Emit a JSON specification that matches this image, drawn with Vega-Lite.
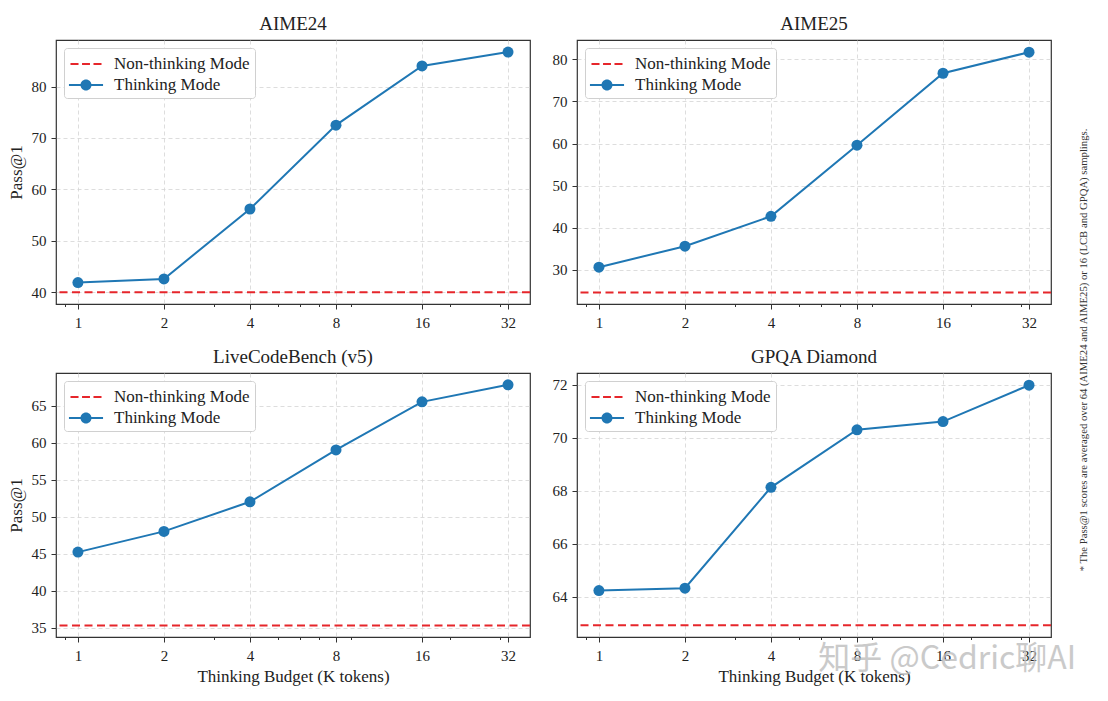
{
  "$schema": "https://vega.github.io/schema/vega-lite/v6.json",
  "padding": {"left": 6, "top": 14, "right": 5, "bottom": 5},
  "background": "white",
  "data": {"values": [
    {"bench": "AIME24", "mode": "Thinking Mode", "k": 1, "score": 41.9},
    {"bench": "AIME24", "mode": "Thinking Mode", "k": 2, "score": 42.6},
    {"bench": "AIME24", "mode": "Thinking Mode", "k": 4, "score": 56.2},
    {"bench": "AIME24", "mode": "Thinking Mode", "k": 8, "score": 72.5},
    {"bench": "AIME24", "mode": "Thinking Mode", "k": 16, "score": 84.0},
    {"bench": "AIME24", "mode": "Thinking Mode", "k": 32, "score": 86.7},
    {"bench": "AIME24", "mode": "Non-thinking Mode", "k": null, "score": 40.0},
    {"bench": "AIME25", "mode": "Thinking Mode", "k": 1, "score": 30.6},
    {"bench": "AIME25", "mode": "Thinking Mode", "k": 2, "score": 35.6},
    {"bench": "AIME25", "mode": "Thinking Mode", "k": 4, "score": 42.7},
    {"bench": "AIME25", "mode": "Thinking Mode", "k": 8, "score": 59.6},
    {"bench": "AIME25", "mode": "Thinking Mode", "k": 16, "score": 76.7},
    {"bench": "AIME25", "mode": "Thinking Mode", "k": 32, "score": 81.7},
    {"bench": "AIME25", "mode": "Non-thinking Mode", "k": null, "score": 24.6},
    {"bench": "LCB", "mode": "Thinking Mode", "k": 1, "score": 45.2},
    {"bench": "LCB", "mode": "Thinking Mode", "k": 2, "score": 48.0},
    {"bench": "LCB", "mode": "Thinking Mode", "k": 4, "score": 52.0},
    {"bench": "LCB", "mode": "Thinking Mode", "k": 8, "score": 59.0},
    {"bench": "LCB", "mode": "Thinking Mode", "k": 16, "score": 65.5},
    {"bench": "LCB", "mode": "Thinking Mode", "k": 32, "score": 67.8},
    {"bench": "LCB", "mode": "Non-thinking Mode", "k": null, "score": 35.3},
    {"bench": "GPQA", "mode": "Thinking Mode", "k": 1, "score": 64.24},
    {"bench": "GPQA", "mode": "Thinking Mode", "k": 2, "score": 64.33},
    {"bench": "GPQA", "mode": "Thinking Mode", "k": 4, "score": 68.13},
    {"bench": "GPQA", "mode": "Thinking Mode", "k": 8, "score": 70.3},
    {"bench": "GPQA", "mode": "Thinking Mode", "k": 16, "score": 70.61},
    {"bench": "GPQA", "mode": "Thinking Mode", "k": 32, "score": 71.98},
    {"bench": "GPQA", "mode": "Non-thinking Mode", "k": null, "score": 62.93},
    {"bench": "GPQA", "mode": "watermark", "wm": "知乎 @Cedric聊AI"}
  ]},
  "config": {
    "font": "Liberation Serif",
    "view": {"stroke": "#333333", "strokeWidth": 1.2},
    "title": {"font": "Liberation Serif", "fontSize": 19, "fontWeight": "normal", "color": "#222222", "offset": 6},
    "axis": {
      "labelFont": "Liberation Serif", "labelFontSize": 15, "labelColor": "#222222",
      "titleFont": "Liberation Serif", "titleFontSize": 17, "titleFontWeight": "normal", "titleColor": "#222222",
      "domain": false, "tickColor": "#333333", "tickWidth": 1, "tickSize": 5,
      "grid": true, "gridDash": [4, 3], "gridColor": "#d4d4d4", "gridWidth": 0.8
    },
    "axisX": {"labelPadding": 6, "titlePadding": 5},
    "axisY": {"labelPadding": 5, "titlePadding": 6},
    "legend": {"orient": "top-left", "offset": 8, "padding": 5, "symbolOffset": 6, "labelOffset": 17, "rowPadding": 2, "fillColor": "white", "strokeColor": "#d0d0d0", "cornerRadius": 3, "symbolSize": 484, "symbolStrokeWidth": 0, "labelFont": "Liberation Serif", "labelFontSize": 17, "labelColor": "#222222", "labelLimit": 300}
  },
  "hconcat": [
    {
      "concat": [
        {
          "width": 474, "height": 264,
          "title": "AIME24",
          "transform": [{"filter": "datum.bench === 'AIME24'"}],
          "layer": [
            {"transform": [{"filter": "datum.mode === 'Non-thinking Mode'"}], "mark": {"type": "rule", "color": "#e6262b", "strokeDash": [8, 4.5], "strokeWidth": 2},
             "encoding": {"y": {"field": "score", "type": "quantitative", "scale": {"domain": [37.73, 89.05], "nice": false, "zero": false}, "axis": {"values": [40, 50, 60, 70, 80], "title": "Pass@1"}}}},
            {"transform": [{"filter": "datum.mode === 'Thinking Mode'"}], "mark": {"type": "line", "color": "#1f77b4", "strokeWidth": 2},
             "encoding": {"x": {"field": "k", "type": "quantitative", "scale": {"type": "log", "base": 2, "domain": [0.838, 38.2], "nice": false}, "axis": {"orient": "bottom", "values": [1, 2, 4, 8, 16, 32], "format": "d", "title": null}},
               "y": {"field": "score", "type": "quantitative", "scale": {"domain": [37.73, 89.05], "nice": false, "zero": false}, "axis": {"values": [40, 50, 60, 70, 80], "title": "Pass@1"}}}},
            {"transform": [{"filter": "datum.mode === 'Thinking Mode'"}], "mark": {"type": "point", "filled": true, "shape": "circle", "size": 121, "opacity": 1, "color": "#1f77b4"},
             "encoding": {"x": {"field": "k", "type": "quantitative", "scale": {"type": "log", "base": 2, "domain": [0.838, 38.2], "nice": false}, "axis": {"orient": "bottom", "values": [0.9, 3, 5, 6, 7, 9, 20, 30], "labels": false, "grid": false, "tickSize": 2.5, "title": null}},
               "y": {"field": "score", "type": "quantitative", "scale": {"domain": [37.73, 89.05], "nice": false, "zero": false}, "axis": {"values": [40, 50, 60, 70, 80], "title": "Pass@1"}}}},
            {"transform": [{"filter": "false"}], "mark": {"type": "point", "filled": true, "opacity": 1, "size": 484},
             "encoding": {
               "color": {"field": "mode", "type": "nominal", "scale": {"domain": ["Non-thinking Mode", "Thinking Mode"], "range": ["#e6262b", "#1f77b4"]}, "legend": {"title": null}},
               "shape": {"field": "mode", "type": "nominal", "scale": {"domain": ["Non-thinking Mode", "Thinking Mode"], "range": ["M-1.41,-0.09H-0.68V0.09H-1.41Z M-0.36,-0.09H0.36V0.09H-0.36Z M0.68,-0.09H1.41V0.09H0.68Z", "M-1.55,-0.08H-0.45V0.08H-1.55Z M0.45,-0.08H1.55V0.08H0.45Z M0.5,0A0.5,0.5,0,1,1,-0.5,0A0.5,0.5,0,1,1,0.5,0Z"]}, "legend": {"title": null}}
             }}
          ],
          "resolve": {"axis": {"x": "independent"}}
        },
        {
          "width": 474, "height": 264,
          "title": "AIME25",
          "transform": [{"filter": "datum.bench === 'AIME25'"}],
          "layer": [
            {"transform": [{"filter": "datum.mode === 'Non-thinking Mode'"}], "mark": {"type": "rule", "color": "#e6262b", "strokeDash": [8, 4.5], "strokeWidth": 2},
             "encoding": {"y": {"field": "score", "type": "quantitative", "scale": {"domain": [21.86, 84.6], "nice": false, "zero": false}, "axis": {"values": [30, 40, 50, 60, 70, 80], "title": null}}}},
            {"transform": [{"filter": "datum.mode === 'Thinking Mode'"}], "mark": {"type": "line", "color": "#1f77b4", "strokeWidth": 2},
             "encoding": {"x": {"field": "k", "type": "quantitative", "scale": {"type": "log", "base": 2, "domain": [0.838, 38.2], "nice": false}, "axis": {"orient": "bottom", "values": [1, 2, 4, 8, 16, 32], "format": "d", "title": null}},
               "y": {"field": "score", "type": "quantitative", "scale": {"domain": [21.86, 84.6], "nice": false, "zero": false}, "axis": {"values": [30, 40, 50, 60, 70, 80], "title": null}}}},
            {"transform": [{"filter": "datum.mode === 'Thinking Mode'"}], "mark": {"type": "point", "filled": true, "shape": "circle", "size": 121, "opacity": 1, "color": "#1f77b4"},
             "encoding": {"x": {"field": "k", "type": "quantitative", "scale": {"type": "log", "base": 2, "domain": [0.838, 38.2], "nice": false}, "axis": {"orient": "bottom", "values": [0.9, 3, 5, 6, 7, 9, 20, 30], "labels": false, "grid": false, "tickSize": 2.5, "title": null}},
               "y": {"field": "score", "type": "quantitative", "scale": {"domain": [21.86, 84.6], "nice": false, "zero": false}, "axis": {"values": [30, 40, 50, 60, 70, 80], "title": null}}}},
            {"transform": [{"filter": "false"}], "mark": {"type": "point", "filled": true, "opacity": 1, "size": 484},
             "encoding": {
               "color": {"field": "mode", "type": "nominal", "scale": {"domain": ["Non-thinking Mode", "Thinking Mode"], "range": ["#e6262b", "#1f77b4"]}, "legend": {"title": null}},
               "shape": {"field": "mode", "type": "nominal", "scale": {"domain": ["Non-thinking Mode", "Thinking Mode"], "range": ["M-1.41,-0.09H-0.68V0.09H-1.41Z M-0.36,-0.09H0.36V0.09H-0.36Z M0.68,-0.09H1.41V0.09H0.68Z", "M-1.55,-0.08H-0.45V0.08H-1.55Z M0.45,-0.08H1.55V0.08H0.45Z M0.5,0A0.5,0.5,0,1,1,-0.5,0A0.5,0.5,0,1,1,0.5,0Z"]}, "legend": {"title": null}}
             }}
          ],
          "resolve": {"axis": {"x": "independent"}}
        },
        {
          "width": 474, "height": 264,
          "title": "LiveCodeBench (v5)",
          "transform": [{"filter": "datum.bench === 'LCB'"}],
          "layer": [
            {"transform": [{"filter": "datum.mode === 'Non-thinking Mode'"}], "mark": {"type": "rule", "color": "#e6262b", "strokeDash": [8, 4.5], "strokeWidth": 2},
             "encoding": {"y": {"field": "score", "type": "quantitative", "scale": {"domain": [33.73, 69.4], "nice": false, "zero": false}, "axis": {"values": [35, 40, 45, 50, 55, 60, 65], "title": "Pass@1"}}}},
            {"transform": [{"filter": "datum.mode === 'Thinking Mode'"}], "mark": {"type": "line", "color": "#1f77b4", "strokeWidth": 2},
             "encoding": {"x": {"field": "k", "type": "quantitative", "scale": {"type": "log", "base": 2, "domain": [0.838, 38.2], "nice": false}, "axis": {"orient": "bottom", "values": [1, 2, 4, 8, 16, 32], "format": "d", "title": "Thinking Budget (K tokens)"}},
               "y": {"field": "score", "type": "quantitative", "scale": {"domain": [33.73, 69.4], "nice": false, "zero": false}, "axis": {"values": [35, 40, 45, 50, 55, 60, 65], "title": "Pass@1"}}}},
            {"transform": [{"filter": "datum.mode === 'Thinking Mode'"}], "mark": {"type": "point", "filled": true, "shape": "circle", "size": 121, "opacity": 1, "color": "#1f77b4"},
             "encoding": {"x": {"field": "k", "type": "quantitative", "scale": {"type": "log", "base": 2, "domain": [0.838, 38.2], "nice": false}, "axis": {"orient": "bottom", "values": [0.9, 3, 5, 6, 7, 9, 20, 30], "labels": false, "grid": false, "tickSize": 2.5, "title": null}},
               "y": {"field": "score", "type": "quantitative", "scale": {"domain": [33.73, 69.4], "nice": false, "zero": false}, "axis": {"values": [35, 40, 45, 50, 55, 60, 65], "title": "Pass@1"}}}},
            {"transform": [{"filter": "false"}], "mark": {"type": "point", "filled": true, "opacity": 1, "size": 484},
             "encoding": {
               "color": {"field": "mode", "type": "nominal", "scale": {"domain": ["Non-thinking Mode", "Thinking Mode"], "range": ["#e6262b", "#1f77b4"]}, "legend": {"title": null}},
               "shape": {"field": "mode", "type": "nominal", "scale": {"domain": ["Non-thinking Mode", "Thinking Mode"], "range": ["M-1.41,-0.09H-0.68V0.09H-1.41Z M-0.36,-0.09H0.36V0.09H-0.36Z M0.68,-0.09H1.41V0.09H0.68Z", "M-1.55,-0.08H-0.45V0.08H-1.55Z M0.45,-0.08H1.55V0.08H0.45Z M0.5,0A0.5,0.5,0,1,1,-0.5,0A0.5,0.5,0,1,1,0.5,0Z"]}, "legend": {"title": null}}
             }}
          ],
          "resolve": {"axis": {"x": "independent"}}
        },
        {
          "width": 474, "height": 264,
          "title": "GPQA Diamond",
          "transform": [{"filter": "datum.bench === 'GPQA'"}],
          "layer": [
            {"transform": [{"filter": "datum.mode === 'Non-thinking Mode'"}], "mark": {"type": "rule", "color": "#e6262b", "strokeDash": [8, 4.5], "strokeWidth": 2},
             "encoding": {"y": {"field": "score", "type": "quantitative", "scale": {"domain": [62.49, 72.44], "nice": false, "zero": false}, "axis": {"values": [64, 66, 68, 70, 72], "title": null}}}},
            {"transform": [{"filter": "datum.mode === 'Thinking Mode'"}], "mark": {"type": "line", "color": "#1f77b4", "strokeWidth": 2},
             "encoding": {"x": {"field": "k", "type": "quantitative", "scale": {"type": "log", "base": 2, "domain": [0.838, 38.2], "nice": false}, "axis": {"orient": "bottom", "values": [1, 2, 4, 8, 16, 32], "format": "d", "title": "Thinking Budget (K tokens)"}},
               "y": {"field": "score", "type": "quantitative", "scale": {"domain": [62.49, 72.44], "nice": false, "zero": false}, "axis": {"values": [64, 66, 68, 70, 72], "title": null}}}},
            {"transform": [{"filter": "datum.mode === 'Thinking Mode'"}], "mark": {"type": "point", "filled": true, "shape": "circle", "size": 121, "opacity": 1, "color": "#1f77b4"},
             "encoding": {"x": {"field": "k", "type": "quantitative", "scale": {"type": "log", "base": 2, "domain": [0.838, 38.2], "nice": false}, "axis": {"orient": "bottom", "values": [0.9, 3, 5, 6, 7, 9, 20, 30], "labels": false, "grid": false, "tickSize": 2.5, "title": null}},
               "y": {"field": "score", "type": "quantitative", "scale": {"domain": [62.49, 72.44], "nice": false, "zero": false}, "axis": {"values": [64, 66, 68, 70, 72], "title": null}}}},
            {"transform": [{"filter": "false"}], "mark": {"type": "point", "filled": true, "opacity": 1, "size": 484},
             "encoding": {
               "color": {"field": "mode", "type": "nominal", "scale": {"domain": ["Non-thinking Mode", "Thinking Mode"], "range": ["#e6262b", "#1f77b4"]}, "legend": {"title": null}},
               "shape": {"field": "mode", "type": "nominal", "scale": {"domain": ["Non-thinking Mode", "Thinking Mode"], "range": ["M-1.41,-0.09H-0.68V0.09H-1.41Z M-0.36,-0.09H0.36V0.09H-0.36Z M0.68,-0.09H1.41V0.09H0.68Z", "M-1.55,-0.08H-0.45V0.08H-1.55Z M0.45,-0.08H1.55V0.08H0.45Z M0.5,0A0.5,0.5,0,1,1,-0.5,0A0.5,0.5,0,1,1,0.5,0Z"]}, "legend": {"title": null}}
             }},
            {"transform": [{"filter": "datum.mode === 'watermark'"}], "mark": {"type": "text", "font": "Noto Sans CJK SC", "fontSize": 32, "color": "#bdbdbd", "opacity": 0.8, "align": "center", "baseline": "middle"},
             "encoding": {"x": {"datum": 16.55, "type": "quantitative", "axis": null}, "y": {"datum": 61.66, "type": "quantitative"}, "text": {"field": "wm"}}}
          ],
          "resolve": {"axis": {"x": "independent"}}
        }
      ],
      "columns": 2,
      "spacing": {"row": 16, "column": 19},
      "resolve": {"scale": {"color": "independent", "shape": "independent"}, "legend": {"color": "independent", "shape": "independent"}}
    },
    {
      "width": 10, "height": 620,
      "data": {"values": [{"note": "* The Pass@1 scores are averaged over 64 (AIME24 and AIME25) or 16 (LCB and GPQA) samplings."}]},
      "mark": {"type": "text", "angle": 270, "font": "Liberation Serif", "fontSize": 10.7, "color": "#333333", "align": "center", "baseline": "middle"},
      "encoding": {"text": {"field": "note"}},
      "view": {"stroke": null}
    }
  ],
  "spacing": 0
}
